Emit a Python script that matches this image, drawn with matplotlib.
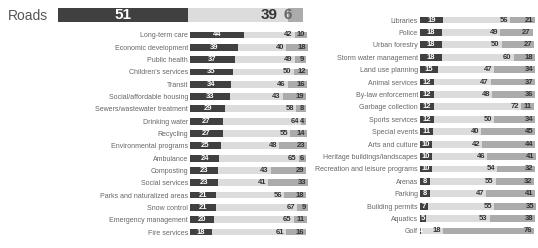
import matplotlib
matplotlib.use('Agg')

import matplotlib.pyplot as plt

plt.rcParams['font.family'] = ['Liberation Sans', 'DejaVu Sans']

# Roads (headline bar): increase / same / decrease
roads = [51, 39, 6]

# Left column
left_labels = ['Long-term care', 'Economic development', 'Public health', "Children's services",
               'Transit', 'Social/affordable housing', 'Sewers/wastewater treatment', 'Drinking water',
               'Recycling', 'Environmental programs', 'Ambulance', 'Composting', 'Social services',
               'Parks and naturalized areas', 'Snow control', 'Emergency management', 'Fire services']
left_up = [44, 39, 37, 35, 34, 33, 29, 27, 27, 25, 24, 23, 23, 21, 21, 20, 18]
left_same = [42, 40, 49, 50, 46, 43, 58, 64, 55, 48, 65, 43, 41, 56, 67, 65, 61]
left_down = [10, 18, 9, 12, 16, 19, 8, 4, 14, 23, 6, 29, 33, 18, 9, 11, 16]

# Right column
right_labels = ['Libraries', 'Police', 'Urban forestry', 'Storm water management', 'Land use planning',
                'Animal services', 'By-law enforcement', 'Garbage collection', 'Sports services',
                'Special events', 'Arts and culture', 'Heritage buildings/landscapes',
                'Recreation and leisure programs', 'Arenas', 'Parking', 'Building permits',
                'Aquatics', 'Golf']
right_up = [19, 18, 18, 18, 15, 12, 12, 12, 12, 11, 10, 10, 10, 8, 8, 7, 5, 1]
right_same = [56, 49, 50, 60, 47, 47, 48, 72, 50, 40, 42, 46, 54, 55, 47, 55, 53, 18]
right_down = [21, 27, 27, 18, 34, 37, 36, 11, 34, 45, 44, 41, 32, 32, 41, 35, 38, 76]

DARK = '#404040'
LIGHT = '#dcdcdc'
MID = '#ababab'
TXT = '#333333'

W, H = 538, 248
fig = plt.figure(figsize=(W / 100, H / 100), dpi=100)


def box(x0, y0, x1, y1):
    # pixel box (top-left origin) -> figure fraction
    return [x0 / W, 1 - y1 / H, (x1 - x0) / W, (y1 - y0) / H]


def clean(ax, pad):
    for s in ax.spines.values():
        s.set_visible(False)
    ax.set_xticks([])
    ax.tick_params(axis='y', length=0, pad=pad)


def draw(ax, labels, up, same, down, xmax):
    n = len(labels)
    y = list(range(n))
    start2 = up
    start3 = [u + s for u, s in zip(up, same)]
    ends = [a + d for a, d in zip(start3, down)]
    ax.barh(y, up, height=0.55, color=DARK)
    ax.barh(y, same, left=start2, height=0.55, color=LIGHT)
    ax.barh(y, down, left=start3, height=0.55, color=MID)
    for i in y:
        ax.text(up[i] / 2, i, str(up[i]), ha='center', va='center',
                color='white', fontsize=5.5, fontweight='bold')
        ax.annotate(str(same[i]), (start3[i], i), xytext=(-1.5, 0), textcoords='offset points',
                    ha='right', va='center', color=TXT, fontsize=5.5, fontweight='bold')
        ax.annotate(str(down[i]), (ends[i], i), xytext=(-1.5, 0), textcoords='offset points',
                    ha='right', va='center', color=TXT, fontsize=5.5, fontweight='bold')
    ax.set_yticks(y, labels, fontsize=5, color='#666666')
    ax.set_xlim(0, xmax)
    ax.set_ylim(n - 0.5, -0.5)
    clean(ax, 1.5)


# Roads headline
ax0 = fig.add_axes(box(58, 8, 313, 22))
ax0.barh([0], [roads[0]], height=1, color=DARK)
ax0.barh([0], [roads[1]], left=[roads[0]], height=1, color=LIGHT)
ax0.barh([0], [roads[2]], left=[roads[0] + roads[1]], height=1, color=MID)
ax0.text(roads[0] / 2, 0, str(roads[0]), ha='center', va='center',
         color='white', fontsize=11, fontweight='bold')
ax0.annotate(str(roads[1]), (roads[0] + roads[1], 0), xytext=(-7, 0), textcoords='offset points',
             ha='right', va='center', color=TXT, fontsize=11, fontweight='bold')
ax0.annotate(str(roads[2]), (sum(roads), 0), xytext=(-8, 0), textcoords='offset points',
             ha='right', va='center', color='#666666', fontsize=11, fontweight='bold')
ax0.set_yticks([0], ['Roads'], fontsize=10, color='#555555')
ax0.set_xlim(0, 100)
ax0.set_ylim(-0.5, 0.5)
clean(ax0, 7)

# Left column
ax1 = fig.add_axes(box(190, 28.8, 312, 238.2))
draw(ax1, left_labels, left_up, left_same, left_down, 100)

# Right column
ax2 = fig.add_axes(box(420, 13.8, 538, 237.2))
draw(ax2, right_labels, right_up, right_same, right_down, 98.3)

fig.savefig('out.png', dpi=100)
